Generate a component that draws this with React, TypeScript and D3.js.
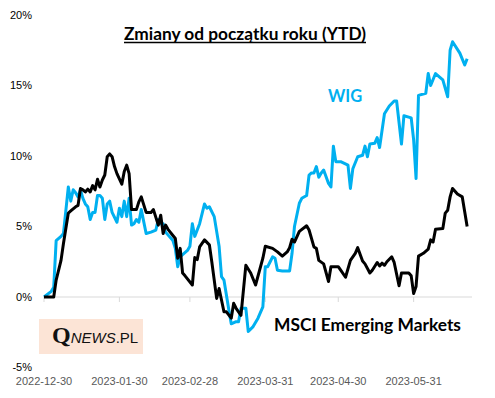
import React from 'react'
import * as d3 from 'd3'

// WIG, zmiana od początku roku (%)
const wigDates = [
  '2022-12-30', '2023-01-02', '2023-01-03', '2023-01-04', '2023-01-06', '2023-01-07', '2023-01-09', '2023-01-10',
  '2023-01-11', '2023-01-12', '2023-01-13', '2023-01-14', '2023-01-15', '2023-01-16', '2023-01-17', '2023-01-18',
  '2023-01-19', '2023-01-20', '2023-01-21', '2023-01-22', '2023-01-23', '2023-01-24', '2023-01-25', '2023-01-26',
  '2023-01-27', '2023-01-29', '2023-01-30', '2023-01-31', '2023-02-01', '2023-02-02', '2023-02-03', '2023-02-04',
  '2023-02-05', '2023-02-06', '2023-02-07', '2023-02-08', '2023-02-10', '2023-02-12', '2023-02-14', '2023-02-15',
  '2023-02-16', '2023-02-17', '2023-02-18', '2023-02-21', '2023-02-22', '2023-02-23', '2023-02-24', '2023-02-25',
  '2023-02-27', '2023-02-28', '2023-03-01', '2023-03-02', '2023-03-04', '2023-03-06', '2023-03-07', '2023-03-08',
  '2023-03-10', '2023-03-12', '2023-03-13', '2023-03-14', '2023-03-16', '2023-03-17', '2023-03-19', '2023-03-20',
  '2023-03-21', '2023-03-23', '2023-03-24', '2023-03-26', '2023-03-28', '2023-03-30', '2023-03-31', '2023-04-01',
  '2023-04-02', '2023-04-03', '2023-04-04', '2023-04-05', '2023-04-07', '2023-04-10', '2023-04-11', '2023-04-12',
  '2023-04-14', '2023-04-15', '2023-04-17', '2023-04-18', '2023-04-19', '2023-04-20', '2023-04-21', '2023-04-22',
  '2023-04-23', '2023-04-24', '2023-04-26', '2023-04-27', '2023-04-28', '2023-04-29', '2023-05-01', '2023-05-04',
  '2023-05-05', '2023-05-06', '2023-05-08', '2023-05-10', '2023-05-11', '2023-05-12', '2023-05-13', '2023-05-15',
  '2023-05-16', '2023-05-17', '2023-05-19', '2023-05-21', '2023-05-23', '2023-05-24', '2023-05-26', '2023-05-27',
  '2023-05-30', '2023-05-31', '2023-06-01', '2023-06-02', '2023-06-05', '2023-06-06', '2023-06-07', '2023-06-09',
  '2023-06-12', '2023-06-14', '2023-06-15', '2023-06-16', '2023-06-19', '2023-06-21', '2023-06-22'
]
const wigValues = [
  0, 0.4, 0.7, 4.0, 4.3, 4.5, 7.8, 6.8, 7.6, 7.4, 7.1, 7.6, 7.0, 6.6, 6.4, 5.5,
  6.0, 6.0, 7.2, 7.2, 7.0, 5.5, 6.6, 6.8, 6.0, 5.3, 6.3, 5.7, 6.8, 5.7, 7.0, 5.1,
  5.2, 5.5, 5.3, 6.2, 4.5, 4.6, 4.75, 5.5, 5.2, 5.2, 4.6, 4.0, 3.45, 2.15, 2.85, 3.0,
  3.3, 3.6, 5.2, 4.3, 5.2, 6.6, 6.3, 6.4, 5.7, 3.6, 1.45, 1.2, -0.9, -1.9, -1.75, -1.75,
  -0.8, -0.8, -2.45, -2.1, -1.5, -0.7, 2.15, 2.15, 2.5, 2.85, 2.75, 1.9, 1.85, 1.85, 3.1, 5.0,
  6.65, 7.0, 7.2, 8.65, 8.8, 8.8, 9.25, 8.5, 8.8, 9.0, 8.05, 7.8, 10.7, 9.6, 9.6, 9.35,
  7.7, 9.1, 9.95, 10.05, 10.7, 9.95, 10.85, 10.9, 11.3, 10.6, 13.0, 13.55, 13.9, 13.9, 10.85, 12.85,
  12.7, 11.15, 8.4, 14.3, 14.45, 15.85, 15.0, 15.85, 15.4, 14.2, 17.5, 18.1, 17.3, 16.45, 16.9
]

// MSCI Emerging Markets, zmiana od początku roku (%)
const emDates = [
  '2022-12-30', '2023-01-03', '2023-01-04', '2023-01-06', '2023-01-07', '2023-01-09', '2023-01-10', '2023-01-12',
  '2023-01-13', '2023-01-14', '2023-01-15', '2023-01-16', '2023-01-17', '2023-01-18', '2023-01-19', '2023-01-20',
  '2023-01-21', '2023-01-22', '2023-01-23', '2023-01-24', '2023-01-25', '2023-01-26', '2023-01-27', '2023-01-28',
  '2023-01-29', '2023-01-31', '2023-02-01', '2023-02-02', '2023-02-03', '2023-02-04', '2023-02-06', '2023-02-07',
  '2023-02-08', '2023-02-10', '2023-02-12', '2023-02-13', '2023-02-15', '2023-02-16', '2023-02-17', '2023-02-18',
  '2023-02-19', '2023-02-22', '2023-02-23', '2023-02-24', '2023-02-25', '2023-02-26', '2023-03-01', '2023-03-02',
  '2023-03-03', '2023-03-04', '2023-03-06', '2023-03-08', '2023-03-09', '2023-03-11', '2023-03-12', '2023-03-14',
  '2023-03-15', '2023-03-17', '2023-03-18', '2023-03-19', '2023-03-21', '2023-03-23', '2023-03-25', '2023-03-27',
  '2023-03-30', '2023-03-31', '2023-04-03', '2023-04-05', '2023-04-07', '2023-04-09', '2023-04-10', '2023-04-11',
  '2023-04-12', '2023-04-14', '2023-04-17', '2023-04-18', '2023-04-20', '2023-04-21', '2023-04-22', '2023-04-24',
  '2023-04-26', '2023-04-27', '2023-04-30', '2023-05-01', '2023-05-03', '2023-05-05', '2023-05-07', '2023-05-08',
  '2023-05-10', '2023-05-11', '2023-05-13', '2023-05-14', '2023-05-16', '2023-05-17', '2023-05-18', '2023-05-19',
  '2023-05-20', '2023-05-22', '2023-05-23', '2023-05-25', '2023-05-26', '2023-05-29', '2023-05-30', '2023-05-31',
  '2023-06-01', '2023-06-02', '2023-06-04', '2023-06-06', '2023-06-07', '2023-06-08', '2023-06-09', '2023-06-12',
  '2023-06-13', '2023-06-14', '2023-06-15', '2023-06-16', '2023-06-18', '2023-06-20', '2023-06-21', '2023-06-22'
]
const emValues = [
  0, 0, 1.2, 2.6, 3.8, 5.95, 6.1, 6.4, 6.5, 7.7, 7.6, 7.45, 7.65, 7.45, 7.9, 7.6,
  8.35, 7.8, 8.3, 8.65, 9.95, 10.15, 9.95, 9.25, 8.75, 8.0, 8.9, 9.35, 8.75, 6.2, 6.2, 6.75,
  7.1, 6.0, 6.0, 6.2, 5.1, 5.8, 4.5, 5.1, 4.8, 4.15, 2.75, 3.45, 1.7, 1.5, 0.85, 2.8,
  2.65, 3.55, 4.05, 3.7, 2.5, -0.1, 0.6, -1.05, -1.05, -1.5, -0.45, -0.8, -1.3, 2.25, 1.7, 0.85,
  2.75, 3.6, 3.45, 3.2, 2.9, 3.2, 3.5, 4.1, 3.9, 4.65, 5.05, 4.75, 3.55, 3.45, 2.6, 2.35,
  1.1, 2.15, 2.15, 1.9, 1.4, 2.6, 3.1, 3.5, 2.55, 2.35, 1.7, 1.9, 2.45, 2.2, 2.4, 2.25,
  2.5, 2.85, 2.45, 0.8, 1.7, 1.7, 1.5, 0.25, 0.75, 2.9, 3.1, 3.4, 4.05, 3.9, 4.8, 4.85,
  5.95, 6.15, 7.1, 7.7, 7.3, 7.1, 6.05, 5.0
]

const xTicks = ['2022-12-30', '2023-01-30', '2023-02-28', '2023-03-31', '2023-04-30', '2023-05-31']
const yTicks = [-5, 0, 5, 10, 15, 20]

const width = 495
const height = 398
const parse = d3.timeParse('%Y-%m-%d')

const x = d3.scaleTime()
  .domain([parse('2022-12-30')!, parse('2023-06-24')!])
  .range([44, 472])

const y = d3.scaleLinear()
  .domain([-5, 20])
  .range([367.5, 15])

type Pt = [Date, number]

const toPoints = (dates: string[], values: number[]): Pt[] =>
  d3.range(Math.min(dates.length, values.length)).map(i => [parse(dates[i])!, values[i]] as Pt)

const line = d3.line<Pt>()
  .x(d => x(d[0]))
  .y(d => y(d[1]))

const BLUE = '#00B0F0'
const font = 'Lato, "Liberation Sans", sans-serif'
const axisFont = '"Liberation Sans", Arial, sans-serif'

export default function App() {
  const wig = toPoints(wigDates, wigValues)
  const em = toPoints(emDates, emValues)
  const y0 = y(0)

  return (
    <svg width={width} height={height} style={{ position: 'absolute', left: 0, top: 0, background: '#fff' }}>
      {/* y labels */}
      {yTicks.map(t => (
        <text key={t} x={32} y={y(t)} dy='0.35em' textAnchor='end'
          fontFamily={axisFont} fontSize={11} fill='#000'>{t}%</text>
      ))}

      {/* x axis at 0% */}
      <line x1={x.range()[0]} x2={x.range()[1]} y1={y0} y2={y0} stroke='#D9D9D9' strokeWidth={1} />
      {xTicks.map(t => (
        <g key={t}>
          <line x1={x(parse(t)!)} x2={x(parse(t)!)} y1={y0} y2={y0 + 5} stroke='#D9D9D9' strokeWidth={1} />
          <text x={x(parse(t)!)} y={385} textAnchor='middle' fontFamily={axisFont} fontSize={11} fill='#595959'>{t}</text>
        </g>
      ))}

      {/* series */}
      <path d={line(wig) ?? ''} fill='none' stroke={BLUE} strokeWidth={3} strokeLinejoin='round' />
      <path d={line(em) ?? ''} fill='none' stroke='#000' strokeWidth={3} strokeLinejoin='round' />

      {/* title */}
      <text x={245} y={40} textAnchor='middle' fontFamily={font} fontWeight='bold' fontSize={16.5}
        fill='#000' textLength={242} lengthAdjust='spacingAndGlyphs'>Zmiany od początku roku (YTD)</text>
      <line x1={124} x2={366} y1={42.5} y2={42.5} stroke='#000' strokeWidth={1.5} />

      {/* series labels */}
      <text x={328} y={101.5} fontFamily={font} fontWeight='bold' fontSize={16.5} fill={BLUE}>WIG</text>
      <text x={274} y={330.5} fontFamily={font} fontWeight='bold' fontSize={16.5} fill='#000'
        textLength={187} lengthAdjust='spacingAndGlyphs'>MSCI Emerging Markets</text>

      {/* logo */}
      <rect x={39} y={319} width={104} height={35} fill='#FCE4D6' />
      <text x={52} y={343} fill='#111'>
        <tspan fontFamily='"Liberation Serif", serif' fontWeight='bold' fontSize={24}>Q</tspan>
        <tspan fontFamily={axisFont} fontStyle='italic' fontSize={15}>NEWS</tspan>
        <tspan fontFamily={axisFont} fontSize={15}>.PL</tspan>
      </text>
    </svg>
  )
}
